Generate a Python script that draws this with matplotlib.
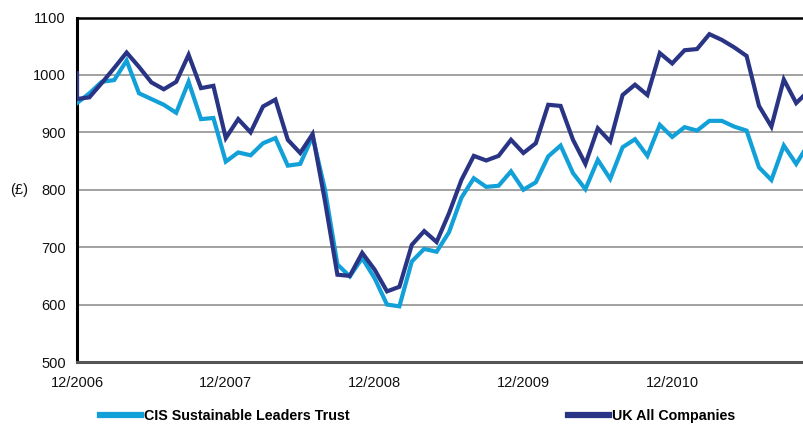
import matplotlib
matplotlib.use("Agg")
import matplotlib.pyplot as plt
from matplotlib import font_manager

# ---- data (monthly, starting 12/2006; first entry is the starting value) ----
month_index = [0] + list(range(0, 60))
uk_all = [1003, 958, 961, 986, 1012, 1039, 1014, 987, 975, 988, 1035, 977, 981,
          890, 923, 900, 945, 957, 887, 864, 897, 780, 652, 650, 690, 661, 623,
          631, 704, 728, 709, 759, 817, 859, 851, 859, 887, 864, 881, 948, 946,
          887, 845, 907, 884, 965, 983, 965, 1038, 1020, 1043, 1045, 1071, 1061,
          1048, 1033, 946, 910, 992, 951, 972]
cis = [951, 951, 968, 988, 991, 1025, 968, 958, 948, 934, 988, 923, 925,
       849, 865, 860, 881, 890, 842, 845, 893, 800, 670, 649, 681, 646, 600,
       597, 675, 697, 692, 726, 786, 820, 805, 807, 832, 800, 813, 858, 877,
       829, 801, 852, 819, 874, 888, 859, 913, 892, 909, 903, 920, 920, 910,
       903, 839, 817, 877, 845, 880]
tick_months = [0, 12, 24, 36, 48]
tick_labels = ["12/2006", "12/2007", "12/2008", "12/2009", "12/2010"]
y_ticks = [500, 600, 700, 800, 900, 1000, 1100]
series_names = ["CIS Sustainable Leaders Trust", "UK All Companies"]

light = "#12a0d8"
dark = "#2a3484"

names = {f.name for f in font_manager.fontManager.ttflist}
base_font = "Liberation Sans" if "Liberation Sans" in names else "DejaVu Sans"
leg_font = "Liberation Sans Narrow" if "Liberation Sans Narrow" in names else base_font
plt.rcParams["font.family"] = [base_font, "DejaVu Sans"]

fig = plt.figure(figsize=(8.04, 4.25), dpi=100)
ax = fig.add_axes([77 / 804, 1 - 362 / 425, 1 - 77 / 804, (362 - 17.5) / 425])

l1, = ax.plot(month_index, cis, color=light, lw=3.0, solid_joinstyle="miter",
              label=series_names[0], zorder=3, clip_on=True)
l2, = ax.plot(month_index, uk_all, color=dark, lw=3.0, solid_joinstyle="miter",
              label=series_names[1], zorder=4, clip_on=True)

ax.set_xlim(0, (804 - 77) / 12.4)
ax.set_ylim(500, 1100)
ax.set_yticks(y_ticks)
ax.set_xticks(tick_months)
ax.set_xticklabels(tick_labels)
ax.tick_params(axis="both", length=0, labelsize=10.5, colors="#111111")
ax.tick_params(axis="x", pad=10)
ax.tick_params(axis="y", pad=8)
ax.yaxis.grid(True, color="#9a9a9a", lw=1.3)
ax.set_axisbelow(True)

ax.spines["right"].set_visible(False)
ax.spines["left"].set_color("black")
ax.spines["left"].set_linewidth(2.2)
ax.spines["top"].set_color("black")
ax.spines["top"].set_linewidth(1.8)
ax.spines["bottom"].set_color("#555555")
ax.spines["bottom"].set_linewidth(2.2)

fig.text(19 / 804, 1 - 190 / 425, "(£)", ha="center", va="center", fontsize=10.5,
         color="#111111")

leg_kw = dict(frameon=False, handlelength=2.9, handletextpad=0.2, borderpad=0,
              borderaxespad=0, prop={"family": leg_font, "weight": "bold", "size": 10.3})
leg1 = fig.legend(handles=[l1], loc="center left",
                  bbox_to_anchor=(100 / 804, 1 - 416 / 425), **leg_kw)
leg2 = fig.legend(handles=[l2], loc="center left",
                  bbox_to_anchor=(568 / 804, 1 - 416 / 425), **leg_kw)
for lg in (leg1, leg2):
    for ln in lg.get_lines():
        ln.set_linewidth(4.5)

fig.savefig("out.png", dpi=100)
